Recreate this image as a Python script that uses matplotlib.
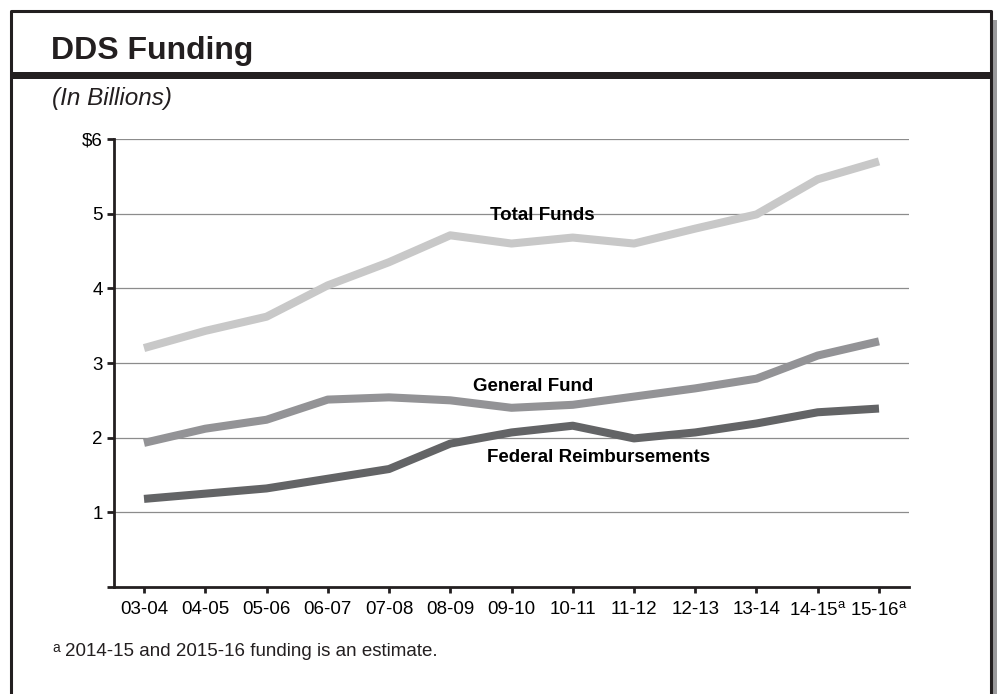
import numpy as np
import matplotlib.pyplot as plt
from matplotlib.patches import Rectangle
from matplotlib.lines import Line2D

plt.rcParams['font.family'] = ['Liberation Sans', 'DejaVu Sans']
plt.rcParams['mathtext.fontset'] = 'custom'
plt.rcParams['mathtext.rm'] = 'Liberation Sans'

years = ['03-04', '04-05', '05-06', '06-07', '07-08', '08-09', '09-10',
         '10-11', '11-12', '12-13', '13-14', '14-15$^{\\mathrm{a}}$', '15-16$^{\\mathrm{a}}$']
total_funds = [3.20, 3.43, 3.62, 4.04, 4.35, 4.71, 4.60, 4.68, 4.60, 4.80, 4.99, 5.46, 5.70]
general_fund = [1.93, 2.12, 2.24, 2.51, 2.54, 2.50, 2.40, 2.44, 2.55, 2.66, 2.79, 3.10, 3.29]
federal = [1.18, 1.25, 1.32, 1.45, 1.58, 1.92, 2.07, 2.16, 1.99, 2.07, 2.19, 2.34, 2.39]

W, H = 997, 694
fig = plt.figure(figsize=(W / 100, H / 100), dpi=100)

# frame, shadow and title bar
fig.add_artist(Rectangle((993 / W, 0), 4 / W, 1 - 20 / H, transform=fig.transFigure,
                         color='#9a9a9c', lw=0))
fig.add_artist(Line2D([11 / W, 11 / W, 991 / W, 991 / W], [-0.01, 1 - 11 / H, 1 - 11 / H, -0.01],
                      transform=fig.transFigure, color='#231f20', lw=2.2))
fig.add_artist(Rectangle((11 / W, 1 - 79 / H), 980 / W, 7 / H, transform=fig.transFigure,
                         color='#231f20', lw=0))

fig.text(51 / W, 1 - 51 / H, 'DDS Funding', fontsize=23, fontweight='bold',
         color='#231f20', va='center')
fig.text(52 / W, 1 - 98 / H, '(In Billions)', fontsize=17.5, style='italic',
         color='#231f20', va='center')

ax = fig.add_axes([114 / W, 1 - 587 / H, 795 / W, 448 / H])
x = np.arange(len(years))
ax.plot(x, total_funds, color='#c8c8c8', lw=5.8, solid_capstyle='butt', zorder=3)
ax.plot(x, general_fund, color='#939396', lw=5.8, solid_capstyle='butt', zorder=3)
ax.plot(x, federal, color='#636466', lw=5.8, solid_capstyle='butt', zorder=3)

ax.set_xlim(-0.49, len(years) - 0.51)
ax.set_ylim(0, 6)
ax.set_yticks([0, 1, 2, 3, 4, 5, 6])
ax.set_yticklabels(['', '1', '2', '3', '4', '5', '\\$6'], fontsize=13.5)
ax.set_xticks(x)
ax.set_xticklabels(years, fontsize=13.5)
for v in range(1, 7):
    ax.axhline(v, color='#8c8c8c', lw=0.9, zorder=1)

for s in ['top', 'right']:
    ax.spines[s].set_visible(False)
for s in ['left', 'bottom']:
    ax.spines[s].set_linewidth(2)
    ax.spines[s].set_color('#231f20')
ax.tick_params(axis='y', length=5, width=2, color='#231f20', pad=3)
ax.tick_params(axis='x', length=4, width=2, color='#231f20', pad=6)

ax.text(6.5, 4.98, 'Total Funds', fontsize=13.5, fontweight='bold', ha='center', va='center')
ax.text(6.35, 2.69, 'General Fund', fontsize=13.5, fontweight='bold', ha='center', va='center')
ax.text(7.42, 1.73, 'Federal Reimbursements', fontsize=13.5, fontweight='bold',
        ha='center', va='center')

fig.text(52 / W, 1 - 648 / H, 'a', fontsize=10, color='#231f20', va='center')
fig.text(65 / W, 1 - 652 / H, '2014-15 and 2015-16 funding is an estimate.', fontsize=13.5,
         color='#231f20', va='center')

fig.savefig('out.png', dpi=100)
